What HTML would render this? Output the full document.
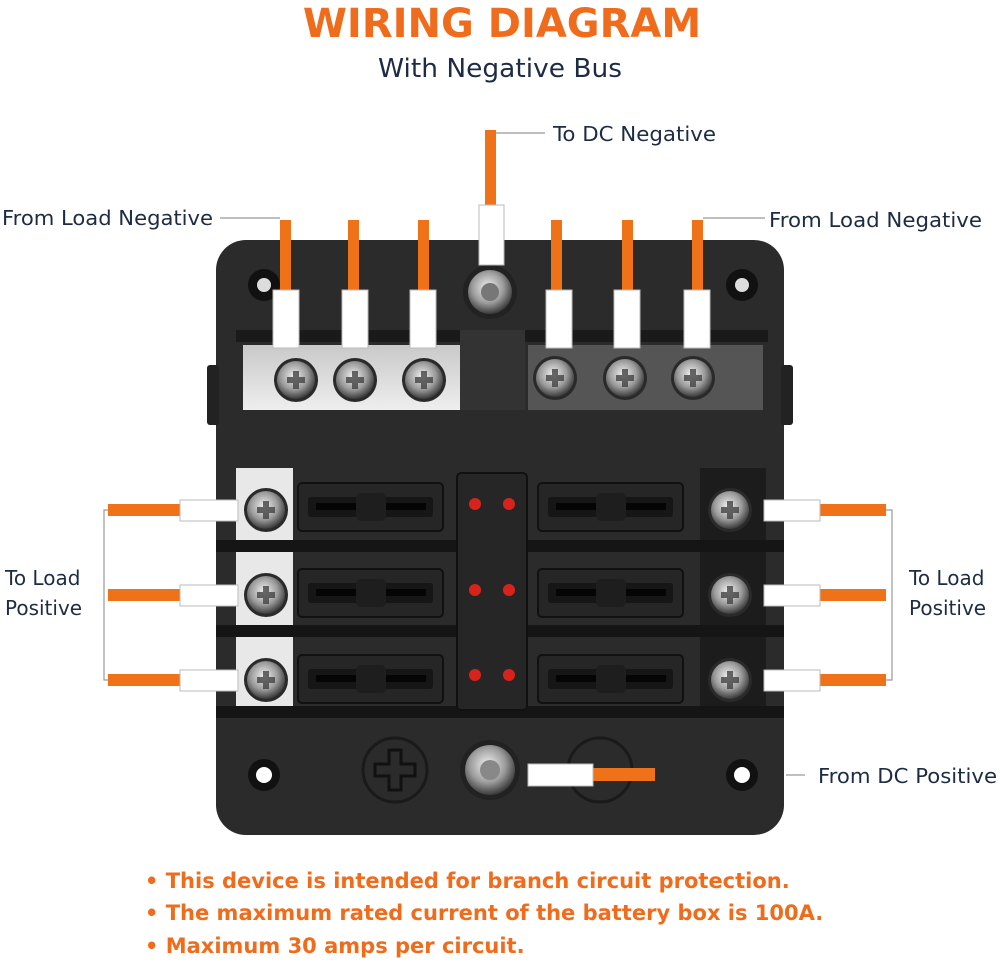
<!DOCTYPE html>
<html><head><meta charset="utf-8"><style>
html,body{margin:0;padding:0;background:#fff}
svg{display:block}
text{font-family:"DejaVu Sans","Liberation Sans",sans-serif}
</style></head><body>
<svg width="1000" height="968" viewBox="0 0 1000 968" xmlns="http://www.w3.org/2000/svg">
<defs>
<radialGradient id="scr" cx="45%" cy="40%" r="60%"><stop offset="0" stop-color="#f2f2f2"/><stop offset="0.6" stop-color="#9a9a9a"/><stop offset="1" stop-color="#3a3a3a"/></radialGradient>
<linearGradient id="bar" x1="0" y1="0" x2="0" y2="1"><stop offset="0" stop-color="#c9c9c9"/><stop offset="1" stop-color="#eee"/></linearGradient>
<g id="screw"><circle r="22" fill="#2a2a2a"/><circle r="19" fill="url(#scr)"/><path d="M-9,-3h6v-6h6v6h6v6h-6v6h-6v-6h-6z" fill="#444" opacity="0.8"/></g>
<g id="fuse"><rect x="0" y="0" width="145" height="48" rx="4" fill="#262626" stroke="#111" stroke-width="2"/><rect x="10" y="14" width="125" height="20" rx="3" fill="#161616"/><rect x="18" y="20" width="48" height="7" fill="#050505"/><rect x="80" y="20" width="48" height="7" fill="#050505"/><rect x="58" y="10" width="30" height="28" rx="5" fill="#1e1e1e"/></g>
</defs>
<text x="502" y="37" text-anchor="middle" font-size="40" font-weight="bold" fill="#ef6c1c">WIRING DIAGRAM</text>
<text x="500" y="77" text-anchor="middle" font-size="26" fill="#1d2c44" textLength="244" lengthAdjust="spacingAndGlyphs">With Negative Bus</text>

<rect x="216" y="240" width="568" height="595" rx="30" fill="#2b2b2b"/>
<rect x="207" y="365" width="12" height="60" rx="3" fill="#222"/><rect x="781" y="365" width="12" height="60" rx="3" fill="#222"/>
<circle cx="264" cy="285" r="16" fill="#111"/><circle cx="742" cy="285" r="16" fill="#111"/>
<circle cx="264" cy="775" r="16" fill="#111"/><circle cx="742" cy="775" r="16" fill="#111"/>
<circle cx="264" cy="775" r="8" fill="#fff"/><circle cx="742" cy="775" r="8" fill="#fff"/><circle cx="264" cy="285" r="7" fill="#ddd"/><circle cx="742" cy="285" r="7" fill="#ddd"/>
<rect x="236" y="330" width="532" height="12" fill="#1a1a1a"/>
<rect x="243" y="345" width="217" height="65" fill="url(#bar)"/>
<rect x="528" y="345" width="235" height="65" fill="#555"/>
<rect x="460" y="330" width="65" height="80" fill="#333"/>
<use href="#screw" x="296" y="380"/><use href="#screw" x="355" y="380"/><use href="#screw" x="424" y="380"/>
<use href="#screw" x="555" y="378"/><use href="#screw" x="625" y="378"/><use href="#screw" x="693" y="378"/>
<rect x="236" y="468" width="57" height="242" fill="#e8e8e8"/>
<rect x="700" y="468" width="66" height="242" fill="#1c1c1c"/>
<rect x="216" y="540" width="568" height="12" fill="#151515"/><rect x="216" y="625" width="568" height="12" fill="#151515"/><rect x="216" y="706" width="568" height="12" fill="#151515"/>
<use href="#screw" x="266" y="510"/><use href="#screw" x="266" y="595"/><use href="#screw" x="266" y="680"/>
<use href="#screw" x="730" y="510"/><use href="#screw" x="730" y="595"/><use href="#screw" x="730" y="680"/>
<use href="#fuse" x="298" y="483"/><use href="#fuse" x="298" y="569"/><use href="#fuse" x="298" y="655"/>
<use href="#fuse" x="538" y="483"/><use href="#fuse" x="538" y="569"/><use href="#fuse" x="538" y="655"/>
<rect x="457" y="473" width="70" height="237" rx="4" fill="#262626" stroke="#111" stroke-width="2"/>
<g fill="#d8231c"><circle cx="475" cy="504" r="6"/><circle cx="509" cy="504" r="6"/><circle cx="475" cy="590" r="6"/><circle cx="509" cy="590" r="6"/><circle cx="475" cy="675" r="6"/><circle cx="509" cy="675" r="6"/></g>
<circle cx="395" cy="770" r="32" fill="none" stroke="#1a1a1a" stroke-width="3"/><path d="M389,750h12v14h14v12h-14v14h-12v-14h-14v-12h14z" fill="none" stroke="#111" stroke-width="3"/>
<circle cx="600" cy="770" r="32" fill="none" stroke="#1a1a1a" stroke-width="3"/>
<circle cx="490" cy="292" r="27" fill="#222"/><circle cx="490" cy="292" r="22" fill="url(#scr)"/><circle cx="490" cy="292" r="9" fill="#777"/>
<circle cx="490" cy="770" r="30" fill="#222"/><circle cx="490" cy="770" r="25" fill="url(#scr)"/><circle cx="490" cy="770" r="10" fill="#888"/>

<g fill="#f07218"><rect x="280" y="220" width="11" height="72"/><rect x="348" y="220" width="11" height="72"/><rect x="418" y="220" width="11" height="72"/><rect x="485" y="130" width="11" height="76"/><rect x="551" y="220" width="11" height="72"/><rect x="622" y="220" width="11" height="72"/><rect x="692" y="220" width="11" height="72"/></g>
<g fill="#fff" stroke="#bbb" stroke-width="1"><rect x="273" y="290" width="26" height="58"/><rect x="342" y="290" width="26" height="58"/><rect x="410" y="290" width="26" height="58"/><rect x="479" y="205" width="25" height="60"/><rect x="546" y="290" width="26" height="58"/><rect x="614" y="290" width="26" height="58"/><rect x="684" y="290" width="26" height="58"/></g>
<g fill="#f07218"><rect x="108" y="504" width="72" height="12"/><rect x="108" y="589" width="72" height="12"/><rect x="108" y="674" width="72" height="12"/><rect x="820" y="504" width="66" height="12"/><rect x="820" y="589" width="66" height="12"/><rect x="820" y="674" width="66" height="12"/><rect x="593" y="768" width="62" height="13"/></g>
<g fill="#fff" stroke="#bbb" stroke-width="1"><rect x="180" y="500" width="58" height="21"/><rect x="180" y="585" width="58" height="21"/><rect x="180" y="670" width="58" height="21"/><rect x="764" y="500" width="56" height="21"/><rect x="764" y="585" width="56" height="21"/><rect x="764" y="670" width="56" height="21"/><rect x="528" y="764" width="65" height="22"/></g>
<g stroke="#999" stroke-width="1.2" fill="none">
<path d="M220,218H280"/><path d="M703,218H765"/><path d="M496,133H545"/>
<path d="M108,510H104V680H108"/><path d="M886,510H892V680H886"/><path d="M786,775H805"/>
</g>
<g font-size="20" fill="#1d2c44">
<text x="2" y="225" textLength="211" lengthAdjust="spacingAndGlyphs">From Load Negative</text>
<text x="769" y="227" textLength="213" lengthAdjust="spacingAndGlyphs">From Load Negative</text>
<text x="553" y="141" textLength="163" lengthAdjust="spacingAndGlyphs">To DC Negative</text>
<text x="5" y="585">To Load</text><text x="5" y="615">Positive</text>
<text x="909" y="585">To Load</text><text x="909" y="615">Positive</text>
<text x="818" y="783" textLength="179" lengthAdjust="spacingAndGlyphs">From DC Positive</text>
</g>
<g font-size="21" font-weight="bold" fill="#ef6c1c">
<text x="145" y="888">• This device is intended for branch circuit protection.</text>
<text x="145" y="920">• The maximum rated current of the battery box is 100A.</text>
<text x="145" y="953">• Maximum 30 amps per circuit.</text>
</g>
</svg>
</body></html>
